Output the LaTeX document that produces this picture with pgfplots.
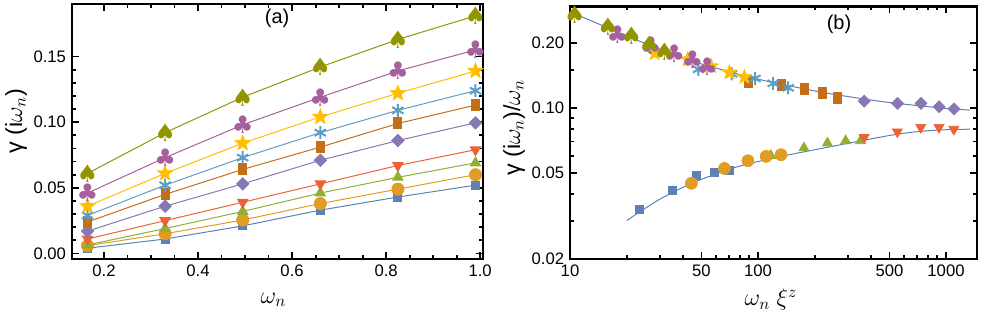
\documentclass[border=0pt]{standalone}
\usepackage{pgfplots}
\pgfplotsset{compat=1.18}
\usepackage{fontspec}
\setmainfont{Liberation Sans}
\newfontfamily\dejavu{DejaVu Sans}
\usetikzlibrary{plotmarks}

\definecolor{c1}{rgb}{0.368417,0.506779,0.709798}
\definecolor{c2}{rgb}{0.880722,0.611041,0.142051}
\definecolor{c3}{rgb}{0.560181,0.691569,0.194885}
\definecolor{c4}{rgb}{0.922526,0.385626,0.209179}
\definecolor{c5}{rgb}{0.528488,0.470624,0.701351}
\definecolor{c6}{rgb}{0.772079,0.431554,0.102387}
\definecolor{c7}{rgb}{0.363898,0.618501,0.782349}
\definecolor{c8}{rgb}{1,0.75,0}
\definecolor{c9}{rgb}{0.647624,0.37816,0.614037}
\definecolor{c10}{rgb}{0.571589,0.586483,0}

\pgfdeclareplotmark{fstar}{%
 \pgfpathmoveto{\pgfpointpolar{90}{\pgfplotmarksize}}%
 \pgfpathlineto{\pgfpointpolar{126}{0.42\pgfplotmarksize}}%
 \pgfpathlineto{\pgfpointpolar{162}{\pgfplotmarksize}}%
 \pgfpathlineto{\pgfpointpolar{198}{0.42\pgfplotmarksize}}%
 \pgfpathlineto{\pgfpointpolar{234}{\pgfplotmarksize}}%
 \pgfpathlineto{\pgfpointpolar{270}{0.42\pgfplotmarksize}}%
 \pgfpathlineto{\pgfpointpolar{306}{\pgfplotmarksize}}%
 \pgfpathlineto{\pgfpointpolar{342}{0.42\pgfplotmarksize}}%
 \pgfpathlineto{\pgfpointpolar{18}{\pgfplotmarksize}}%
 \pgfpathlineto{\pgfpointpolar{54}{0.42\pgfplotmarksize}}%
 \pgfpathclose
 \pgfusepathqfillstroke}

\newcommand{\lblfont}{\fontsize{14}{16}\selectfont}

\pgfplotsset{
 s1/.style={color=c1, mark=square*, mark size=2.4pt},
 s2/.style={color=c2, mark=*, mark size=3.6pt},
 s3/.style={color=c3, mark=triangle*, mark size=3.5pt},
 s4/.style={color=c4, mark=triangle*, mark size=3.5pt, mark options={rotate=180}},
 s5/.style={color=c5, mark=square*, mark size=2.55pt, mark options={rotate=45}},
 s6/.style={color=c6, mark=square*, mark size=3.3pt, mark options={xscale=0.73}},
 s7/.style={color=c7, mark=asterisk, mark size=3.9pt, mark options={line width=1.2pt}},
 s8/.style={color=c8, mark=fstar, mark size=4.6pt},
 s9/.style={color=c9, mark=text, text mark as node=true, text mark={\dejavu\fontsize{14.5}{14.5}\selectfont ♣}, text mark style={text=c9, inner sep=0pt}},
 s10/.style={color=c10, mark=text, text mark as node=true, text mark={\dejavu\fontsize{14.5}{14.5}\selectfont ♠}, text mark style={text=c10, inner sep=0pt}},
 myax/.style={
  scale only axis, anchor=south west,
  axis line style={line width=1.5pt},
  every tick/.style={black, line width=1.1pt},
  major tick length=4pt, minor tick length=2.4pt,
  tick align=inside,
  tick label style={font=\fontsize{10}{12}\selectfont},
  /pgf/number format/assume math mode=true,
  clip=false,
 },
}

\begin{document}
\begin{tikzpicture}
\useasboundingbox (0,0) rectangle (591pt,191.4pt);

% ---------------- panel (a)
\begin{axis}[myax, at={(43.2pt,36pt)}, width=246.6pt, height=153pt,
 xmin=0.132, xmax=1.006, ymin=-0.0042, ymax=0.19,
 xtick={0.2,0.4,0.6,0.8,1.0}, minor x tick num=3,
 ytick={0,0.05,0.1,0.15}, minor y tick num=4,
 xticklabel style={/pgf/number format/.cd, fixed, fixed zerofill, precision=1},
 yticklabel style={/pgf/number format/.cd, fixed, fixed zerofill, precision=2},
 every axis x label/.style={at={([yshift=-24.6pt]rel axis cs:0.49,0)}, anchor=center, font=\lblfont},
 every axis y label/.style={at={([xshift=-33.6pt]rel axis cs:0,0.54)}, anchor=center, rotate=90, font=\lblfont},
 xlabel={$\omega_n$}, ylabel={γ (i$\omega_n$)},
 line width=0.6pt,
]
\addplot[s1] coordinates {(0.165,0.004)(0.33,0.011)(0.495,0.021)(0.66,0.033)(0.825,0.043)(0.99,0.052)};
\addplot[s2] coordinates {(0.165,0.006)(0.33,0.015)(0.495,0.0255)(0.66,0.038)(0.825,0.049)(0.99,0.060)};
\addplot[s3] coordinates {(0.165,0.0065)(0.33,0.019)(0.495,0.032)(0.66,0.046)(0.825,0.058)(0.99,0.069)};
\addplot[s4] coordinates {(0.165,0.011)(0.33,0.025)(0.495,0.039)(0.66,0.053)(0.825,0.067)(0.99,0.079)};
\addplot[s5] coordinates {(0.165,0.017)(0.33,0.036)(0.495,0.053)(0.66,0.071)(0.825,0.086)(0.99,0.0995)};
\addplot[s6] coordinates {(0.165,0.024)(0.33,0.045)(0.495,0.064)(0.66,0.081)(0.825,0.099)(0.99,0.113)};
\addplot[s7] coordinates {(0.165,0.029)(0.33,0.052)(0.495,0.073)(0.66,0.092)(0.825,0.109)(0.99,0.124)};
\addplot[s8] coordinates {(0.165,0.036)(0.33,0.061)(0.495,0.084)(0.66,0.104)(0.825,0.122)(0.99,0.139)};
\addplot[s9] coordinates {(0.165,0.046)(0.33,0.073)(0.495,0.098)(0.66,0.119)(0.825,0.139)(0.99,0.155)};
\addplot[s10] coordinates {(0.165,0.061)(0.33,0.092)(0.495,0.119)(0.66,0.142)(0.825,0.163)(0.99,0.181)};
\node[font=\fontsize{12}{14}\selectfont] at (rel axis cs:0.499,0.945) {(a)};
\end{axis}

% ---------------- panel (b)
\begin{axis}[myax, at={(342pt,36pt)}, width=244.2pt, height=151.5pt,
 xmode=log, ymode=log,
 xmin=10, xmax=1462, ymin=0.02, ymax=0.295,
 xtick={10,50,100,500,1000}, xticklabels={10,50,100,500,1000},
 minor xtick={20,30,40,60,70,80,90,200,300,400,600,700,800,900},
 ytick={0.02,0.05,0.1,0.2}, yticklabels={0.02,0.05,0.10,0.20},
 minor ytick={0.03,0.04,0.06,0.07,0.08,0.09,0.15},
 every axis x label/.style={at={([yshift=-24.6pt]rel axis cs:0.494,0)}, anchor=center, font=\lblfont},
 every axis y label/.style={at={([xshift=-33.6pt]rel axis cs:0,0.52)}, anchor=center, rotate=90, font=\lblfont},
 xlabel={$\omega_n\ \xi^z$}, ylabel={γ (i$\omega_n$)/$\omega_n$},
]
\addplot[color=c1, line width=0.6pt, smooth] coordinates {(10,0.279)(15,0.240)(20,0.216)(30,0.187)(50,0.160)(100,0.136)(200,0.120)(300,0.113)(500,0.106)(1000,0.0995)(1340,0.0978)};
\addplot[color=c1, line width=0.6pt, smooth] coordinates {(20,0.0301)(30,0.0378)(45,0.0450)(70,0.0520)(100,0.0565)(150,0.0610)(250,0.0665)(400,0.0720)(600,0.0765)(900,0.0790)(1340,0.0798)};
\addplot[s1, only marks] coordinates {(23.4,0.034)(35.1,0.0414)(46.8,0.0486)(58.5,0.0504)(70.2,0.0512)};
\addplot[s3, only marks] coordinates {(117,0.0602)(175.5,0.0653)(234,0.0688)(292.5,0.0705)(351,0.0705)};
\addplot[s2, only marks] coordinates {(44.2,0.0448)(66.3,0.0525)(88.4,0.057)(110.5,0.0597)(132.6,0.0608)};
\addplot[s4, only marks] coordinates {(367,0.0731)(551,0.0776)(734,0.0814)(918,0.0814)(1101,0.0798)};
\addplot[s5, only marks] coordinates {(367.8,0.1076)(551.7,0.105)(735.6,0.105)(919.5,0.1014)(1103,0.099)};
\addplot[s6, only marks] coordinates {(88.4,0.132)(132.6,0.128)(176.8,0.122)(221,0.117)(265,0.112)};
\addplot[s7, only marks] coordinates {(48.2,0.151)(72.3,0.144)(96.4,0.137)(120.5,0.130)(144.6,0.124)};
\addplot[s8, only marks] coordinates {(28.2,0.179)(42.3,0.168)(56.4,0.156)(70.5,0.146)(84.6,0.139)};
\addplot[s9, only marks] coordinates {(17.9,0.218)(26.9,0.195)(35.8,0.178)(44.75,0.167)(53.7,0.156)};
\addplot[s10, only marks] coordinates {(10.6,0.269)(15.9,0.238)(21.2,0.215)(26.5,0.197)(31.8,0.182)};
\node[font=\fontsize{12}{14}\selectfont] at (rel axis cs:0.661,0.93) {(b)};
\end{axis}
\end{tikzpicture}
\end{document}
